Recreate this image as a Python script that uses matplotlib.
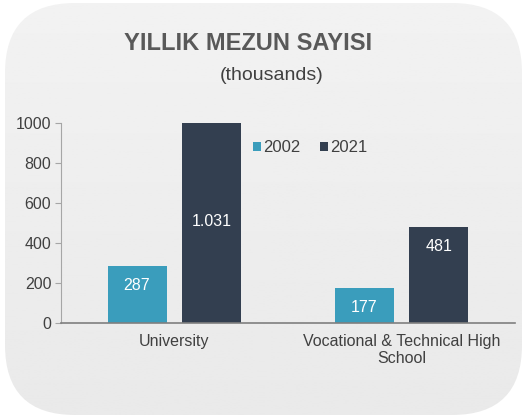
import matplotlib

matplotlib.use("Agg")
import matplotlib.pyplot as plt
import numpy as np
from matplotlib.patches import FancyBboxPatch

plt.rcParams["font.family"] = ["Liberation Sans", "DejaVu Sans"]

categories = ["University", "Vocational & Technical High\nSchool"]
years = ["2002", "2021"]
vals_2002 = [287, 177]
vals_2021 = [1031, 481]
bar_labels_2002 = ["287", "177"]
bar_labels_2021 = ["1.031", "481"]
yticks = [0, 200, 400, 600, 800, 1000]

C_2002 = "#3a9dbc"
C_2021 = "#333f50"
TXT = "#404040"

W, H = 527, 419
fig = plt.figure(figsize=(W / 100, H / 100), dpi=100)
fig.patch.set_facecolor("white")

# rounded gray panel behind everything
R = 70
bg = fig.add_axes([0, 0, 1, 1], zorder=-1)
bg.set_xlim(0, W); bg.set_ylim(0, H); bg.axis("off")
panel = FancyBboxPatch((5 + R, 4 + R), W - 10 - 2 * R, H - 7 - 2 * R,
                       boxstyle=f"round,pad={R}", fc="none", ec="none")
bg.add_patch(panel)
grad = np.linspace(0.948, 0.915, 256).reshape(-1, 1)
im = bg.imshow(grad, extent=[0, W, 0, H], cmap="gray", vmin=0, vmax=1,
               aspect="auto", origin="upper")
im.set_clip_path(panel)

ax = fig.add_axes([61 / W, 1 - 323 / H, 454 / W, 200 / H])
ax.set_facecolor("none")

x = np.arange(len(categories))
bw = 0.26
off = 0.165
b1 = ax.bar(x - off, vals_2002, bw, color=C_2002, label=years[0])
b2 = ax.bar(x + off, vals_2021, bw, color=C_2021, label=years[1])
ax.set_xlim(-0.5, 1.5)
ax.set_ylim(0, 1000)

ymax = ax.get_ylim()[1]
for bars, labels in [(b1, bar_labels_2002), (b2, bar_labels_2021)]:
    for rect, lab in zip(bars, labels):
        h = rect.get_height()
        cx = rect.get_x() + rect.get_width() / 2
        if h > ymax:
            # clipped bar: label sits near the middle
            ax.text(cx, ymax / 2 + 10, lab, ha="center", va="center",
                    color="white", fontsize=11.5)
        else:
            ax.annotate(lab, (cx, h), xytext=(0, -14), textcoords="offset points",
                        ha="center", va="center", color="white", fontsize=11.5)

ax.set_yticks(yticks)
ax.set_yticklabels([str(t) for t in yticks], fontsize=11.5, color=TXT)
ax.set_xticks(x)
ax.set_xticklabels(categories, fontsize=11.5, color=TXT, linespacing=1.15)
ax.tick_params(axis="x", length=0, pad=8)
ax.tick_params(axis="y", length=4, color="#a6a6a6", pad=3)
for s in ["top", "right"]:
    ax.spines[s].set_visible(False)
ax.spines["left"].set_color("#a6a6a6")
ax.spines["bottom"].set_color("#7f7f7f")
ax.spines["bottom"].set_linewidth(1.2)

leg = ax.legend(loc="upper left", bbox_to_anchor=(0.39, 0.99), ncol=2, frameon=False,
                fontsize=12, handlelength=0.45, handleheight=0.45, handletextpad=0.15,
                columnspacing=1.2)
for t in leg.get_texts():
    t.set_color(TXT)

fig.text(248 / W, 1 - 43 / H, "YILLIK MEZUN SAYISI", ha="center", va="center",
         fontsize=17, fontweight="bold", color="#595959")
fig.text(272 / W, 1 - 76 / H, "(thousands)", ha="center", va="center",
         fontsize=14, color=TXT)

fig.savefig("out.png", dpi=100)
